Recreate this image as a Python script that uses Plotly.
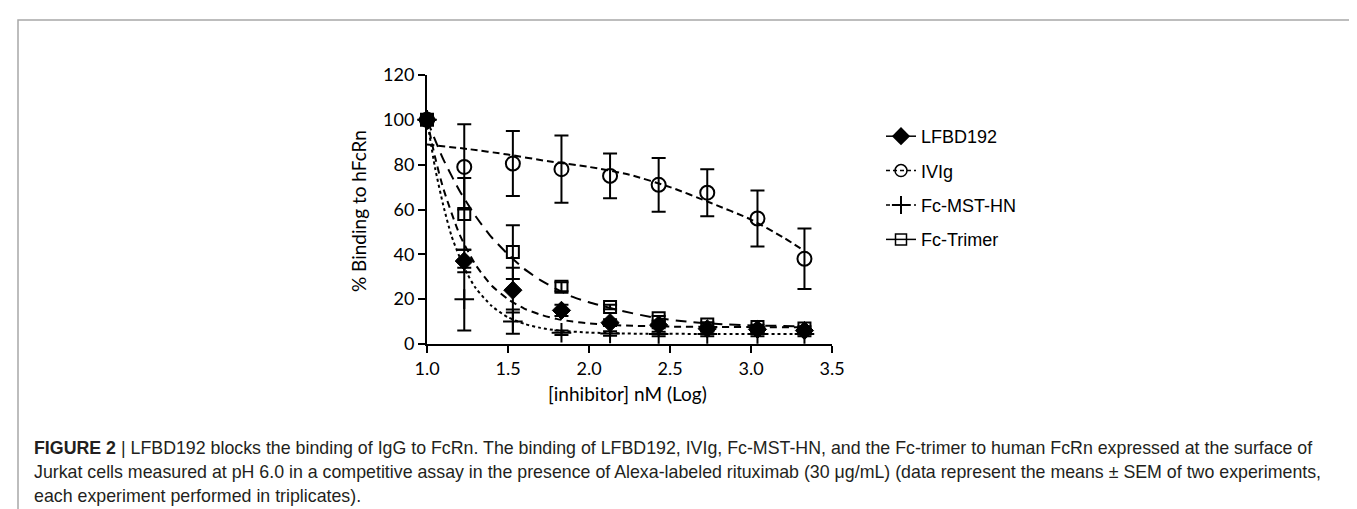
import plotly.graph_objects as go

# ---------------- data ----------------
conc_log = [1.0, 1.23, 1.53, 1.83, 2.13, 2.43, 2.73, 3.04, 3.33]

lfbd192 = [100, 37, 24, 15, 9.5, 8.5, 6.8, 6.5, 6.0]
lfbd192_err = [0, 5, 10, 2.5, 1.5, 1.5, 1.0, 1.0, 1.0]

ivig = [100, 79, 80.5, 78, 75, 71, 67.5, 56, 38]
ivig_err = [0, 19, 14.5, 15, 10, 12, 10.5, 12.5, 13.5]

fc_mst_hn = [100, 20, 10, 5, 4.7, 4.5, 4.5, 4.5, 4.5]
fc_mst_hn_err = [0, 14, 5.4, 1, 1, 1, 1, 1, 1]

fc_trimer = [100, 58, 41, 25.5, 16.5, 11.5, 8.7, 7.6, 6.9]
fc_trimer_err = [0, 16, 12, 2, 1, 1, 1, 1, 1]

# fitted curves
fit_lfbd_x = [1.0, 1.05, 1.1, 1.2, 1.3, 1.4, 1.5, 1.6, 1.7, 1.8, 1.9, 2.0, 2.2, 2.5, 2.8, 3.1, 3.33]
fit_lfbd_y = [100, 83.3, 69.5, 49, 35.3, 26, 20, 15.8, 13.1, 11.2, 10, 9.2, 8.3, 7.75, 7.6, 7.5, 7.5]

fit_mst_x = [1.0, 1.05, 1.1, 1.15, 1.2, 1.25, 1.3, 1.4, 1.5, 1.6, 1.7, 1.8, 2.0, 2.3, 2.8, 3.33]
fit_mst_y = [100, 78.5, 62, 48.5, 39, 31.1, 25, 16.9, 11.9, 9, 7.2, 6.1, 5.1, 4.6, 4.5, 4.5]

fit_trimer_x = [1.0, 1.1, 1.2, 1.3, 1.4, 1.5, 1.6, 1.7, 1.8, 1.9, 2.0, 2.2, 2.4, 2.6, 2.8, 3.0, 3.33]
fit_trimer_y = [100, 82.5, 68.5, 57, 47.5, 40, 33.5, 28.5, 24.5, 21, 18.6, 14.8, 11.8, 10, 8.9, 8.3, 7.9]

fit_ivig_x = [1.0, 1.25, 1.5, 1.75, 2.0, 2.25, 2.5, 2.75, 3.0, 3.2, 3.33]
fit_ivig_y = [89, 87, 84.5, 81.5, 79, 75.5, 70, 63, 55.5, 47.5, 41.5]

series_names = ["LFBD192", "IVIg", "Fc-MST-HN", "Fc-Trimer"]
x_ticks = [1.0, 1.5, 2.0, 2.5, 3.0, 3.5]
y_ticks = [0, 20, 40, 60, 80, 100, 120]

caption_lines = [
    "<b>FIGURE 2</b> | LFBD192 blocks the binding of IgG to FcRn. The binding of LFBD192, IVIg, Fc-MST-HN, and the Fc-trimer to human FcRn expressed at the surface of",
    "Jurkat cells measured at pH 6.0 in a competitive assay in the presence of Alexa-labeled rituximab (30 \u03bcg/mL) (data represent the means \u00b1 SEM of two experiments,",
    "each experiment performed in triplicates).",
]

# ---------------- layout geometry (pixels) ----------------
W, H = 1357, 509
PL, PR, PT, PB = 419, 824, 67, 336  # plot-area edges


def px(x):
    return (x - PL) / (PR - PL)


def py(y):
    return (PB - y) / (PB - PT)


fig = go.Figure()

BLACK = "#000000"
LW = 2

# fitted curves
fits = [
    (fit_lfbd_x, fit_lfbd_y, "7px,5px"),
    (fit_ivig_x, fit_ivig_y, "7px,4px"),
    (fit_mst_x, fit_mst_y, "3px,3px"),
    (fit_trimer_x, fit_trimer_y, "11px,7px"),
]
for fx, fy, dash in fits:
    fig.add_trace(go.Scatter(
        x=fx, y=fy, mode="lines", showlegend=False, hoverinfo="skip",
        line=dict(color=BLACK, width=LW, dash=dash, shape="spline", smoothing=0.6),
        cliponaxis=False,
    ))

# data points with error bars
markers = [
    (lfbd192, lfbd192_err, dict(symbol="diamond", size=14, color=BLACK, line=dict(color=BLACK, width=1))),
    (ivig, ivig_err, dict(symbol="circle-open", size=14, color=BLACK, line=dict(color=BLACK, width=2))),
    (fc_mst_hn, fc_mst_hn_err, dict(symbol="cross-thin-open", size=14, color=BLACK, line=dict(color=BLACK, width=2))),
    (fc_trimer, fc_trimer_err, dict(symbol="square-open", size=12, color=BLACK, line=dict(color=BLACK, width=2))),
]
for vals, errs, mk in markers:
    fig.add_trace(go.Scatter(
        x=conc_log, y=vals, mode="markers", showlegend=False, hoverinfo="skip",
        marker=mk, cliponaxis=False,
        error_y=dict(type="data", array=errs, visible=True, color=BLACK, thickness=2, width=7),
    ))

# legend entries
legend_styles = [
    ("solid", dict(symbol="diamond", size=14, color=BLACK)),
    ("4px,3px", dict(symbol="circle-open", size=12, color=BLACK, line=dict(width=1.5))),
    ("4px,3px", dict(symbol="cross-thin-open", size=13, color=BLACK, line=dict(width=2))),
    ("solid", dict(symbol="square-open", size=11, color=BLACK, line=dict(width=1.5))),
]
for i, (name, (dash, mk)) in enumerate(zip(series_names, legend_styles)):
    fig.add_trace(go.Scatter(
        x=[None], y=[None], mode="lines+markers", name=name, legendgroup=f"g{i}",
        line=dict(color=BLACK, width=1.5, dash=dash), marker=mk,
    ))

shapes = [
    # figure frame (open at the bottom)
    dict(type="path", xref="paper", yref="paper",
         path=f"M {px(10)} {py(520)} L {px(10)} {py(12)} L {px(1354)} {py(12)} L {px(1354)} {py(520)}",
         line=dict(color="#a8a8a8", width=1.5)),
]

annotations = [
    dict(text="% Binding to hFcRn", xref="paper", yref="paper", x=px(350), y=py(203),
         textangle=-90, showarrow=False, xanchor="center", yanchor="middle",
         font=dict(family="Lato, Open Sans, sans-serif", size=19, color=BLACK)),
    dict(text="[inhibitor] nM (Log)", xref="paper", yref="paper", x=px(619), y=py(385),
         showarrow=False, xanchor="center", yanchor="middle",
         font=dict(family="Lato, Open Sans, sans-serif", size=19, color=BLACK)),
]
cap_y = [440, 464, 488]
for line, yy in zip(caption_lines, cap_y):
    annotations.append(dict(
        text=line, xref="paper", yref="paper", x=px(24), y=py(yy), showarrow=False,
        xanchor="left", yanchor="middle", align="left",
        font=dict(family="Liberation Sans, Arial, sans-serif", size=17.8, color="#231f20"),
    ))

fig.update_layout(
    width=W, height=H,
    margin=dict(l=PL, r=W - PR, t=PT, b=H - PB, pad=0),
    paper_bgcolor="white", plot_bgcolor="white",
    showlegend=True,
    legend=dict(x=px(873), y=py(110), xanchor="left", yanchor="top",
                font=dict(family="Liberation Sans, Arial, sans-serif", size=18, color=BLACK),
                tracegroupgap=8, itemwidth=30, bgcolor="rgba(0,0,0,0)"),
    xaxis=dict(range=[1.0, 3.5], tickvals=x_ticks, ticktext=[f"{v:.1f}" for v in x_ticks],
               showgrid=False, zeroline=False, showline=True, linecolor=BLACK, linewidth=2,
               ticks="outside", ticklen=7, tickwidth=2, tickcolor=BLACK,
               tickfont=dict(family="Lato, Open Sans, sans-serif", size=18, color=BLACK)),
    yaxis=dict(range=[0, 120], tickvals=y_ticks,
               showgrid=False, zeroline=False, showline=True, linecolor=BLACK, linewidth=2,
               ticks="outside", ticklen=7, tickwidth=2, tickcolor=BLACK,
               tickfont=dict(family="Lato, Open Sans, sans-serif", size=18, color=BLACK)),
    shapes=shapes,
    annotations=annotations,
)

fig.write_html("out.html")
